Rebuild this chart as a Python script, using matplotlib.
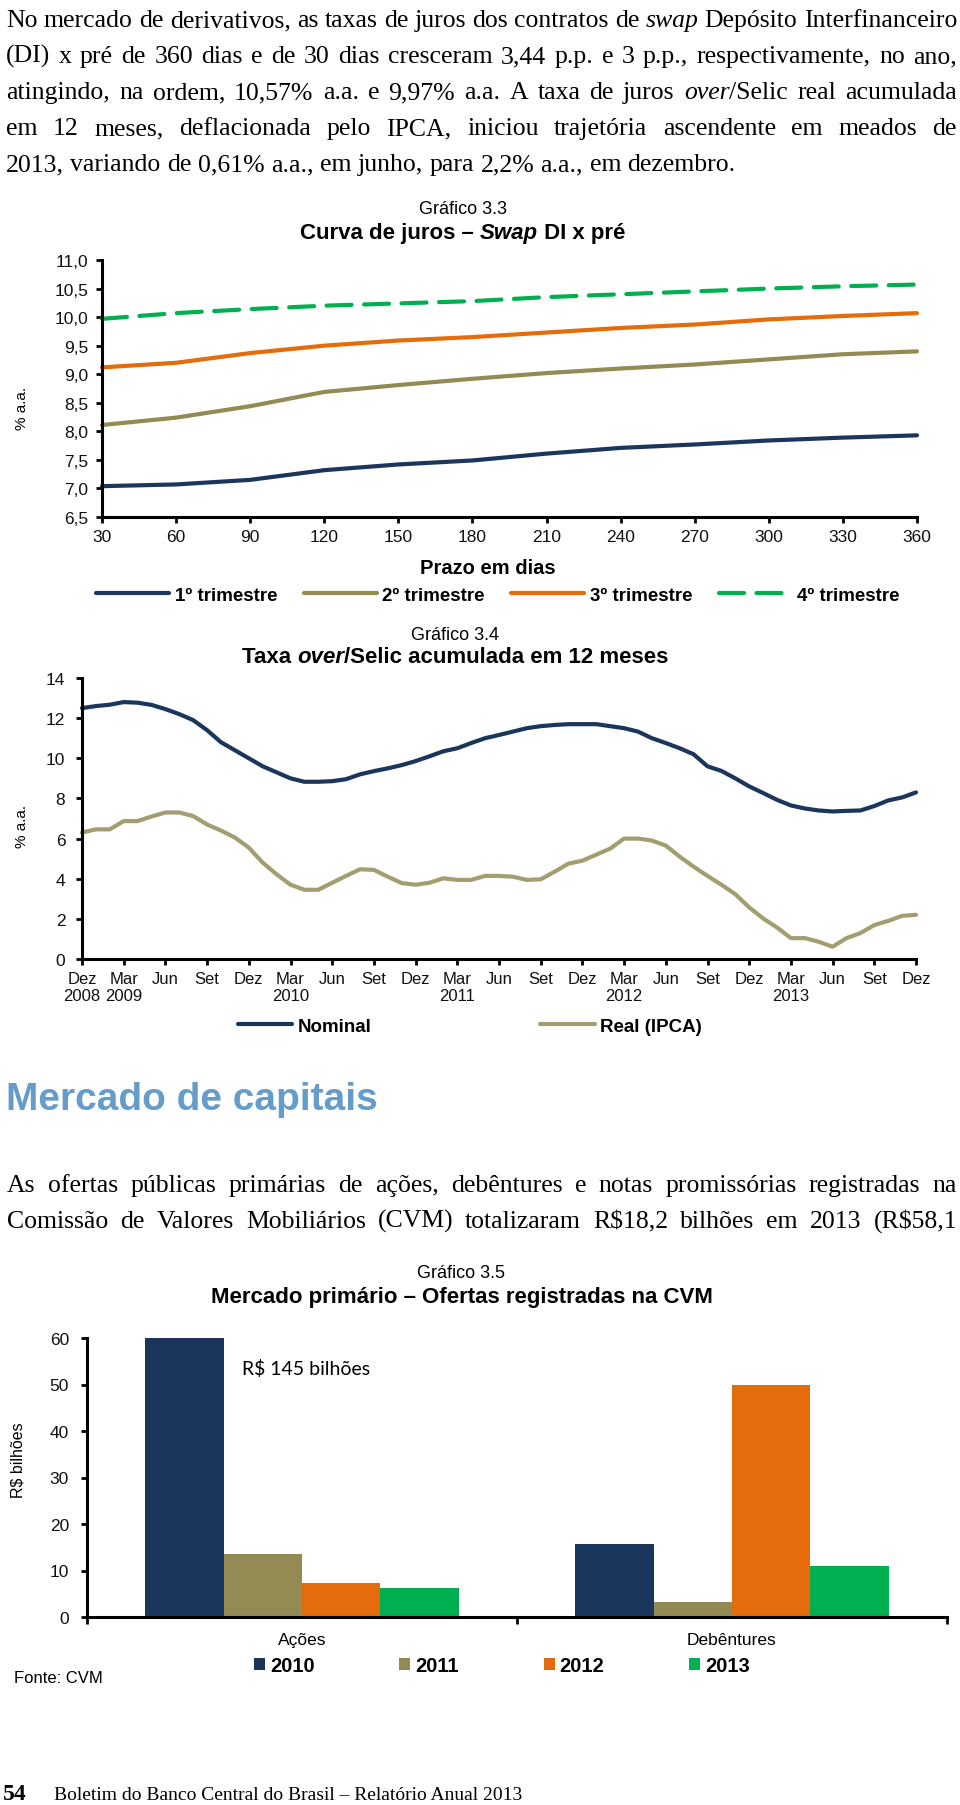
import matplotlib
matplotlib.use('Agg')
import matplotlib.pyplot as plt
import numpy as np

plt.rcParams['font.family'] = ['Liberation Sans', 'DejaVu Sans']

# ---- data ----
# Gráfico 3.3 - Curva de juros (Swap DI x pré)
prazo_dias = [30, 60, 90, 120, 150, 180, 210, 240, 270, 300, 330, 360]
tri1 = [7.04, 7.07, 7.15, 7.32, 7.42, 7.49, 7.61, 7.71, 7.77, 7.84, 7.89, 7.93]
tri2 = [8.11, 8.24, 8.44, 8.69, 8.81, 8.92, 9.02, 9.10, 9.17, 9.26, 9.35, 9.40]
tri3 = [9.12, 9.20, 9.37, 9.50, 9.59, 9.65, 9.73, 9.81, 9.87, 9.96, 10.02, 10.07]
tri4 = [9.97, 10.07, 10.14, 10.20, 10.24, 10.28, 10.35, 10.40, 10.45, 10.50, 10.54, 10.57]
tri_labels = ['1º trimestre', '2º trimestre', '3º trimestre', '4º trimestre']
yticks_33 = [6.5, 7.0, 7.5, 8.0, 8.5, 9.0, 9.5, 10.0, 10.5, 11.0]
ylabels_33 = ['6,5', '7,0', '7,5', '8,0', '8,5', '9,0', '9,5', '10,0', '10,5', '11,0']

# Gráfico 3.4 - Selic acumulada em 12 meses, mensal de dez/2008 a dez/2013
selic_nominal = [12.5, 12.6, 12.67, 12.8, 12.77, 12.66, 12.45, 12.2, 11.9, 11.4, 10.8, 10.4,
                 10.0, 9.6, 9.3, 9.0, 8.83, 8.83, 8.86, 8.96, 9.2, 9.36, 9.5, 9.66,
                 9.86, 10.1, 10.35, 10.5, 10.76, 11.0, 11.16, 11.33, 11.5, 11.6, 11.66, 11.7,
                 11.7, 11.7, 11.6, 11.5, 11.33, 11.0, 10.76, 10.5, 10.2, 9.6, 9.37, 9.0,
                 8.6, 8.27, 7.93, 7.65, 7.5, 7.4, 7.35, 7.38, 7.4, 7.62, 7.9, 8.05, 8.3]
selic_real = [6.3, 6.46, 6.46, 6.87, 6.87, 7.1, 7.3, 7.3, 7.12, 6.7, 6.4, 6.05,
              5.55, 4.8, 4.22, 3.7, 3.45, 3.45, 3.8, 4.14, 4.47, 4.44, 4.1, 3.78,
              3.7, 3.8, 4.02, 3.94, 3.94, 4.14, 4.14, 4.1, 3.94, 3.97, 4.35, 4.75,
              4.9, 5.2, 5.5, 6.0, 6.0, 5.9, 5.65, 5.1, 4.6, 4.14, 3.7, 3.23,
              2.57, 2.02, 1.57, 1.04, 1.04, 0.86, 0.61, 1.04, 1.29, 1.69, 1.9, 2.15, 2.2]
selic_ticklabels = ['Dez\n2008', 'Mar\n2009', 'Jun', 'Set', 'Dez', 'Mar\n2010', 'Jun', 'Set',
                    'Dez', 'Mar\n2011', 'Jun', 'Set', 'Dez', 'Mar\n2012', 'Jun', 'Set',
                    'Dez', 'Mar\n2013', 'Jun', 'Set', 'Dez']

# Gráfico 3.5 - Mercado primário (R$ bilhões)
mercado_cat = ['Ações', 'Debêntures']
anos = ['2010', '2011', '2012', '2013']
ofertas_2010 = [145, 15.6]
ofertas_2011 = [13.5, 3.2]
ofertas_2012 = [7.4, 50.0]
ofertas_2013 = [6.2, 10.9]

NAVY = '#1B365D'
OLIVE = '#948A54'
TAN = '#A29E70'
ORANGE = '#E46C0A'
GREEN = '#00B050'
HEAD = '#659CC9'
SERIF = 'Liberation Serif'

W, H = 960, 1806
fig = plt.figure(figsize=(W / 100, H / 100), dpi=100)
renderer = fig.canvas.get_renderer()


def fx(x):
  return x / W


def fy(y):
  return 1 - y / H


def text_width(s, size, **kw):
  t = fig.text(0, 0, s, fontsize=size, parse_math=False, **kw)
  w = t.get_window_extent(renderer).width
  t.remove()
  return w


# words can carry *italic* parts
def split_word(word):
  parts = word.split('*')
  return [(p, i % 2 == 1) for i, p in enumerate(parts) if p]


def word_width(word, size):
  return sum(text_width(p, size, family=SERIF, style='italic' if it else 'normal')
             for p, it in split_word(word))


def draw_word(x, y, word, size):
  for p, it in split_word(word):
    t = fig.text(fx(x), fy(y), p, fontsize=size, family=SERIF, va='baseline',
                 style='italic' if it else 'normal', parse_math=False)
    x += t.get_window_extent(renderer).width


def fit_size(lines, x0, x1):
  ref = 10
  size = 100
  for line in lines:
    words = line.split(' ')
    nat = sum(word_width(w, ref) for w in words) + (len(words) - 1) * 0.25 * ref * 100 / 72
    size = min(size, ref * (x1 - x0) / nat)
  return size


def paragraph(lines, baselines, x0, x1, size, justify_last=False):
  for i, line in enumerate(lines):
    words = line.split(' ')
    widths = [word_width(w, size) for w in words]
    if i == len(lines) - 1 and not justify_last:
      gap = 0.25 * size * 100 / 72
    else:
      gap = (x1 - x0 - sum(widths)) / (len(words) - 1)
    x = x0
    for w, ww in zip(words, widths):
      draw_word(x, baselines[i], w, size)
      x += ww + gap


par1 = ['No mercado de derivativos, as taxas de juros dos contratos de *swap* Depósito Interfinanceiro',
        '(DI) x pré de 360 dias e de 30 dias cresceram 3,44 p.p. e 3 p.p., respectivamente, no ano,',
        'atingindo, na ordem, 10,57% a.a. e 9,97% a.a. A taxa de juros *over*/Selic real acumulada',
        'em 12 meses, deflacionada pelo IPCA, iniciou trajetória ascendente em meados de',
        '2013, variando de 0,61% a.a., em junho, para 2,2% a.a., em dezembro.']
par2 = ['As ofertas públicas primárias de ações, debêntures e notas promissórias registradas na',
        'Comissão de Valores Mobiliários (CVM) totalizaram R$18,2 bilhões em 2013 (R$58,1']

body_size = fit_size(par1[:4] + par2, 6, 957)
paragraph(par1, [27, 63, 99, 135, 171], 6, 957, body_size)
paragraph(par2, [1192, 1228], 7, 957, body_size, justify_last=True)

# heading
head_size = 28 * 372 / text_width('Mercado de capitais', 28, weight='bold')
fig.text(fx(6), fy(1100), 'Mercado de capitais', fontsize=head_size, weight='bold',
         color=HEAD, va='center')


def style_axes(ax, lw=2.2):
  for s in ['top', 'right']:
    ax.spines[s].set_visible(False)
  for s in ['left', 'bottom']:
    ax.spines[s].set_linewidth(lw)
    ax.spines[s].set_color('black')
  ax.tick_params(axis='both', direction='out', length=4, width=2, colors='black',
                 labelcolor='#111111')


def title_parts(xc, y, parts, size):
  # parts: (text, italic) pieces of one centred bold line
  total = sum(text_width(p, size, weight='bold', style='italic' if it else 'normal') for p, it in parts)
  x = xc - total / 2
  for p, it in parts:
    t = fig.text(fx(x), fy(y), p, fontsize=size, weight='bold', style='italic' if it else 'normal',
                 ha='left', va='center')
    x += t.get_window_extent(renderer).width


# ---- Gráfico 3.3 ----
fig.text(fx(463), fy(209), 'Gráfico 3.3', fontsize=13, ha='center', va='center')
title_parts(463, 233, [('Curva de juros – ', False), ('Swap', True), (' DI x pré', False)], 16)

ax1 = fig.add_axes([fx(102), fy(518), (917 - 102) / W, (518 - 261) / H])
ax1.plot(prazo_dias, tri1, color=NAVY, lw=3, solid_capstyle='round', clip_on=False, label=tri_labels[0])
ax1.plot(prazo_dias, tri2, color=OLIVE, lw=3, solid_capstyle='round', clip_on=False, label=tri_labels[1])
ax1.plot(prazo_dias, tri3, color=ORANGE, lw=3, solid_capstyle='round', clip_on=False, label=tri_labels[2])
ax1.plot(prazo_dias, tri4, color=GREEN, lw=3, dashes=(6, 3), dash_capstyle='round',
         clip_on=False, label=tri_labels[3])
ax1.set_xlim(30, 360)
ax1.set_ylim(6.5, 11.0)
ax1.set_xticks(prazo_dias)
ax1.set_xticklabels([str(d) for d in prazo_dias], fontsize=12.5)
ax1.set_yticks(yticks_33)
ax1.set_yticklabels(ylabels_33, fontsize=12.5)
style_axes(ax1)
ax1.tick_params(axis='y', pad=6)
ax1.tick_params(axis='x', pad=5)
fig.text(fx(22), fy(409), '% a.a.', fontsize=11, rotation=90, ha='center', va='center')
fig.text(fx(488), fy(568), 'Prazo em dias', fontsize=14.5, weight='bold', ha='center', va='center')
ax1.legend(loc='center', bbox_to_anchor=(fx(498), fy(596)), bbox_transform=fig.transFigure,
           ncol=4, frameon=False, handlelength=3.9, handletextpad=0.3, columnspacing=1.4,
           prop={'weight': 'bold', 'size': 13.5})

# ---- Gráfico 3.4 ----
fig.text(fx(455), fy(635), 'Gráfico 3.4', fontsize=13, ha='center', va='center')
title_parts(455, 658, [('Taxa ', False), ('over', True), ('/Selic acumulada em 12 meses', False)], 16)

meses = np.arange(len(selic_nominal))
ax2 = fig.add_axes([fx(82), fy(960), (916 - 82) / W, (960 - 679) / H])
ax2.plot(meses, selic_nominal, color=NAVY, lw=3, solid_capstyle='round', clip_on=False, label='Nominal')
ax2.plot(meses, selic_real, color=TAN, lw=3, solid_capstyle='round', clip_on=False, label='Real (IPCA)')
ax2.set_xlim(0, 60)
ax2.set_ylim(0, 14)
ax2.set_xticks(meses[::3])
ax2.set_xticklabels(selic_ticklabels, fontsize=12, linespacing=1.15)
ax2.set_yticks(range(0, 15, 2))
ax2.tick_params(axis='y', labelsize=12.5, pad=8)
style_axes(ax2)
ax2.tick_params(axis='x', pad=5)
fig.text(fx(22), fy(827), '% a.a.', fontsize=11, rotation=90, ha='center', va='center')
ax2.legend(loc='center', bbox_to_anchor=(fx(470), fy(1027)), bbox_transform=fig.transFigure,
           ncol=2, frameon=False, handlelength=2.9, handletextpad=0.3, columnspacing=9,
           prop={'weight': 'bold', 'size': 13.5})

# ---- Gráfico 3.5 ----
fig.text(fx(461), fy(1273), 'Gráfico 3.5', fontsize=13, ha='center', va='center')
title_parts(462, 1297, [('Mercado primário – Ofertas registradas na CVM', False)], 16)

ax3 = fig.add_axes([fx(87), fy(1618), (947 - 87) / W, (1618 - 1339) / H])
pos = np.arange(len(mercado_cat))
bw = 0.182
for k, (vals, col) in enumerate(zip([ofertas_2010, ofertas_2011, ofertas_2012, ofertas_2013],
                                    [NAVY, OLIVE, ORANGE, GREEN])):
  ax3.bar(pos + (k - 1.5) * bw, vals, width=bw, color=col, label=anos[k])
ax3.set_xlim(-0.5, 1.5)
ax3.set_ylim(0, 60)
ax3.set_yticks(range(0, 61, 10))
ax3.tick_params(axis='y', labelsize=12.5, pad=9)
ax3.set_xticks([-0.5, 0.5, 1.5])
ax3.set_xticklabels(['', '', ''])
ax3.set_xticks(pos, minor=True)
ax3.set_xticklabels(mercado_cat, minor=True, fontsize=12.5)
style_axes(ax3)
ax3.tick_params(axis='x', which='minor', length=0, pad=11)
ax3.tick_params(axis='x', which='major', length=5)
ax3.text(-0.14, 53.5, 'R$ 145 bilhões', fontsize=14, family='Lato', ha='left', va='center',
         parse_math=False)
fig.text(fx(18), fy(1460), 'R$ bilhões', fontsize=11.5, rotation=90, ha='center', va='center',
         parse_math=False)
ax3.legend(loc='center', bbox_to_anchor=(fx(502), fy(1667)), bbox_transform=fig.transFigure,
           ncol=4, frameon=False, handlelength=0.55, handleheight=0.55, handletextpad=0.25,
           columnspacing=4.2, prop={'weight': 'bold', 'size': 14.5})
fig.text(fx(14), fy(1679), 'Fonte: CVM', fontsize=12, ha='left', va='center')

# ---- rodapé ----
fig.text(fx(3), fy(1800), '54', fontsize=17, family=SERIF, weight='bold', va='baseline')
foot = 'Boletim do Banco Central do Brasil – Relatório Anual 2013'
foot_size = 13 * 465 / text_width(foot, 13, family=SERIF)
fig.text(fx(54), fy(1800), foot, fontsize=foot_size, family=SERIF, va='baseline')

fig.savefig('out.png', dpi=100)
